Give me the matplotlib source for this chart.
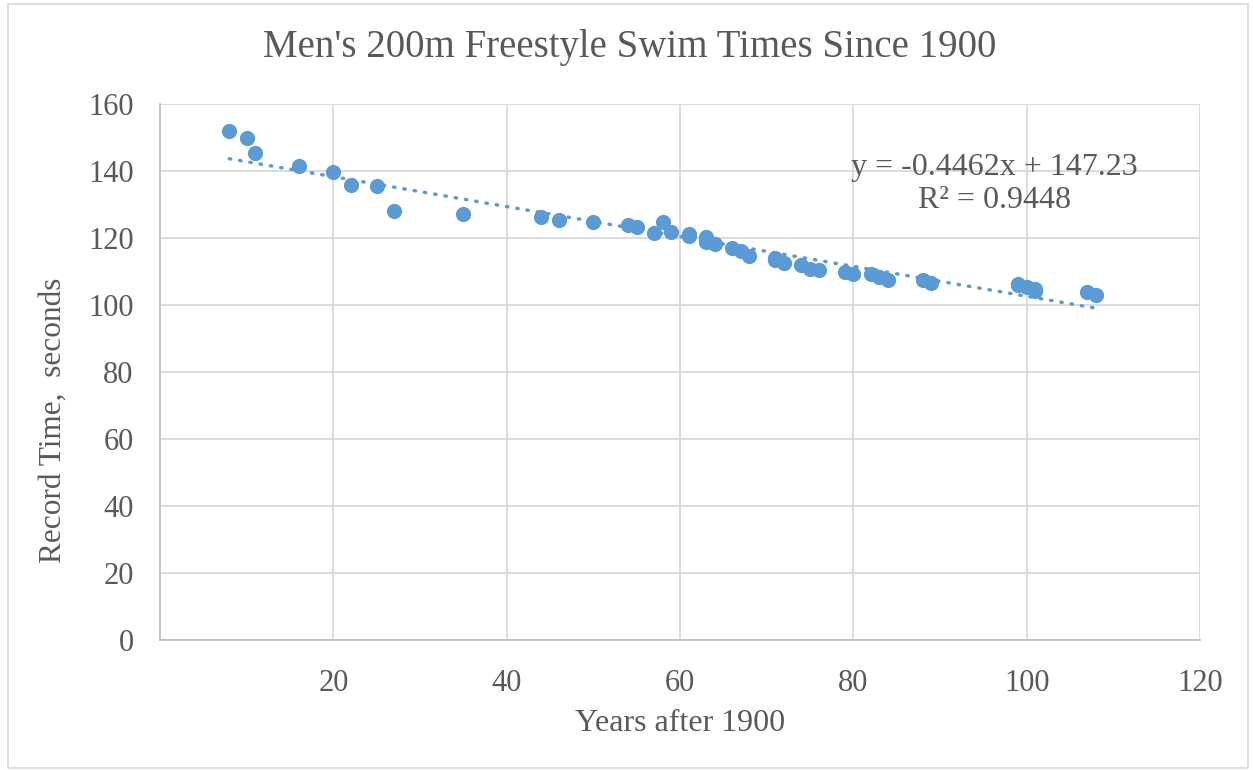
import numpy as np
import matplotlib
matplotlib.use("Agg")
import matplotlib.pyplot as plt
from matplotlib.patches import Rectangle

years = [8, 10, 11, 16, 20, 22, 25, 27, 35, 44, 46, 50, 54, 55, 57, 58, 59,
         61, 61, 63, 63, 64, 66, 67, 68, 71, 71, 72, 74, 75, 76, 79, 80, 82,
         83, 84, 88, 89, 99, 99, 100, 101, 101, 107, 108]
times = [151.8, 150.0, 145.4, 141.6, 139.8, 135.8, 135.4, 128.0, 127.2, 126.4,
         125.4, 124.7, 123.9, 123.4, 121.6, 124.9, 121.9, 121.2, 120.6, 120.4,
         118.8, 118.1, 116.9, 116.0, 114.6, 114.1, 113.5, 112.6, 111.9, 110.6,
         110.3, 110.0, 109.2, 109.2, 108.5, 107.6, 107.5, 106.7, 106.3, 106.0,
         105.4, 104.7, 104.1, 103.9, 103.0]

slope = -0.4462
intercept = 147.23
r2 = 0.9448

x_ticks = [20, 40, 60, 80, 100, 120]
y_ticks = [0, 20, 40, 60, 80, 100, 120, 140, 160]

blue = "#5b9bd5"
grey_text = "#595959"
grid_col = "#d9d9d9"

plt.rcParams["font.family"] = ["Liberation Serif", "DejaVu Serif"]

fig = plt.figure(figsize=(12.53, 7.70), dpi=100)
ax = fig.add_axes([160 / 1253, 1 - 640 / 770, 1040 / 1253, 536 / 770])

ax.set_xlim(0, 120)
ax.set_ylim(0, 160)
ax.set_xticks(x_ticks)
ax.set_yticks(y_ticks)
ax.grid(True, color=grid_col, linewidth=1.3)
ax.set_axisbelow(True)

for side in ["top", "right"]:
    ax.spines[side].set_visible(False)
for side in ["left", "bottom"]:
    ax.spines[side].set_color("#bfbfbf")
    ax.spines[side].set_linewidth(1.3)

ax.tick_params(length=0, labelsize=22, colors=grey_text)
ax.tick_params(axis="y", pad=19)
ax.tick_params(axis="x", pad=21)

ax.scatter(years, times, s=120, color=blue, zorder=3, linewidths=0)

# trendline across the data range
tx = np.array([min(years), max(years)])
ax.plot(tx, slope * tx + intercept, color=blue, linewidth=2.5,
        linestyle=(0, (0.4, 2.6)), dash_capstyle="round", zorder=2)

ax.text(96.3, 136.1, f"y = {slope}x + {intercept}\nR\u00b2 = {r2}",
        ha="center", va="center", fontsize=23, color=grey_text,
        linespacing=1.2)

ax.set_xlabel("Years after 1900", fontsize=23, color=grey_text, labelpad=8)
ax.set_ylabel("Record Time,  seconds", fontsize=22.5, color=grey_text)
ax.yaxis.set_label_coords(-0.089, 0.409)
fig.suptitle("Men's 200m Freestyle Swim Times Since 1900", fontsize=28,
             color=grey_text, x=630 / 1253, y=1 - 47 / 770, va="center")

fig.patches.append(Rectangle((8 / 1253, 2 / 770), 1240 / 1253, 764 / 770,
                             transform=fig.transFigure, fill=False,
                             edgecolor="#d9d9d9", linewidth=1.2))

fig.savefig("out.png", dpi=100)
